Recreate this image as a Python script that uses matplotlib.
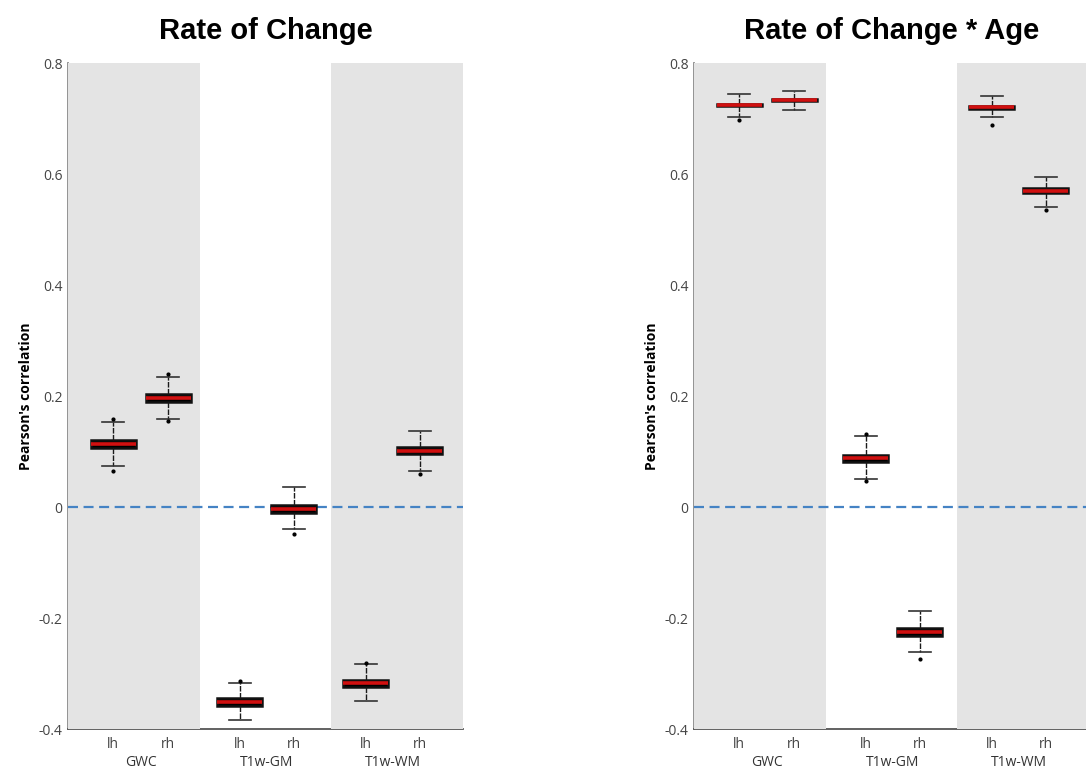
import matplotlib.pyplot as plt
from matplotlib.transforms import blended_transform_factory

# --- data ---
groups = ["GWC", "T1w-GM", "T1w-WM"]
hemis = ["lh", "rh", "lh", "rh", "lh", "rh"]

# Rate of Change
roc_med = [0.113, 0.197, -0.352, -0.003, -0.318, 0.101]
roc_q1 = [0.106, 0.190, -0.359, -0.011, -0.325, 0.095]
roc_q3 = [0.120, 0.204, -0.345, 0.004, -0.311, 0.108]
roc_lo = [0.074, 0.159, -0.383, -0.040, -0.350, 0.064]
roc_hi = [0.153, 0.234, -0.318, 0.036, -0.283, 0.137]
roc_fliers = [[0.065, 0.159], [0.155, 0.240], [-0.314], [-0.048], [-0.281], [0.060]]

# Rate of Change * Age
age_med = [0.724, 0.733, 0.088, -0.226, 0.720, 0.570]
age_q1 = [0.722, 0.731, 0.081, -0.232, 0.718, 0.565]
age_q3 = [0.726, 0.735, 0.094, -0.218, 0.722, 0.575]
age_lo = [0.702, 0.715, 0.050, -0.262, 0.702, 0.540]
age_hi = [0.745, 0.750, 0.128, -0.188, 0.740, 0.595]
age_fliers = [[0.698], [], [0.131, 0.047], [-0.273], [0.688], [0.536]]

positions = [0.342, 0.760, 1.306, 1.716, 2.263, 2.673]
group_centers = [0.551, 1.511, 2.468]


def make_stats(med, q1, q3, lo, hi, fl):
    stats = []
    for i in range(len(med)):
        stats.append(dict(med=med[i], q1=q1[i], q3=q3[i],
                          whislo=lo[i], whishi=hi[i], fliers=fl[i]))
    return stats


def draw_panel(ax, stats, title):
    # shaded background bands
    ax.axvspan(0, 1, color="#e4e4e4", lw=0, zorder=3)
    ax.axvspan(2, 3, color="#e4e4e4", lw=0, zorder=3)
    ax.axhline(0, color="#4583c4", lw=1.6, dashes=(4.5, 2.5), zorder=4)

    ax.bxp(stats, positions=positions, widths=0.342, capwidths=0.17,
           patch_artist=True, showfliers=True, zorder=5,
           boxprops=dict(facecolor="black", edgecolor="#111111", lw=1.8),
           medianprops=dict(color="#d01010", lw=2.6),
           whiskerprops=dict(color="#1a1a1a", lw=1.0, linestyle=(0, (4, 1))),
           capprops=dict(color="#333333", lw=1.2),
           flierprops=dict(marker="o", markersize=2.0, markerfacecolor="black",
                           markeredgecolor="black"))

    ax.set_xlim(0, 3)
    ax.set_ylim(-0.4, 0.8)
    ax.set_yticks([-0.4, -0.2, 0, 0.2, 0.4, 0.6, 0.8])
    ax.set_yticklabels(["-0.4", "-0.2", "0", "0.2", "0.4", "0.6", "0.8"])
    ax.set_xticks(positions)
    ax.set_xticklabels(hemis)
    ax.tick_params(axis="both", length=0, labelsize=10, colors="#444444",
                   labelfontfamily="Open Sans")
    ax.tick_params(axis="x", pad=6)
    ax.tick_params(axis="y", pad=4)

    for s in ["top", "right"]:
        ax.spines[s].set_visible(False)
    ax.spines["left"].set_color("#8a8a8a")
    ax.spines["left"].set_linewidth(1.3)
    ax.spines["bottom"].set_color("#555555")
    ax.spines["bottom"].set_linewidth(1.3)

    trans = blended_transform_factory(ax.transData, ax.transAxes)
    for gx, g in zip(group_centers, groups):
        ax.text(gx, -0.05, g, transform=trans, ha="center", va="center",
                fontsize=10, color="#333333", family="Open Sans")

    ax.set_ylabel("Pearson's correlation", fontsize=10, fontweight="bold",
                  family="Open Sans", labelpad=4)
    ax.set_title(title, fontsize=21, fontweight="bold",
                 family="Liberation Sans", pad=17)


fig = plt.figure(figsize=(10.86, 7.70), dpi=100)
ax1 = fig.add_axes([68 / 1086, 1 - 729 / 770, 395 / 1086, 666 / 770])
ax2 = fig.add_axes([694 / 1086, 1 - 729 / 770, 395 / 1086, 666 / 770])

draw_panel(ax1, make_stats(roc_med, roc_q1, roc_q3, roc_lo, roc_hi, roc_fliers),
           "Rate of Change")
draw_panel(ax2, make_stats(age_med, age_q1, age_q3, age_lo, age_hi, age_fliers),
           "Rate of Change * Age")

fig.savefig("out.png", dpi=100)
